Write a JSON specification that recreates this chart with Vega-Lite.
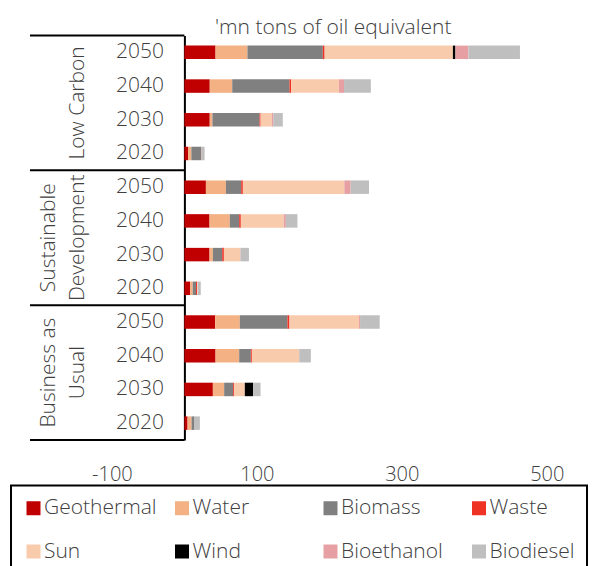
{
  "$schema": "https://vega.github.io/schema/vega-lite/v6.json",
  "autosize": {"type": "none"},
  "padding": {"left": 30, "top": 35.5, "right": 14, "bottom": 126},
  "width": 553,
  "height": 404.5,
  "title": {
    "text": "'mn tons of oil equivalent",
    "frame": "group",
    "anchor": "start",
    "dx": 185,
    "dy": 24,
    "offset": 4,
    "baseline": "alphabetic",
    "fontSize": 21,
    "fontWeight": 300,
    "color": "#404040"
  },
  "datasets": {
    "energy": [
      {"slot": "Low Carbon 2050", "source": "Geothermal", "value": 43},
      {"slot": "Low Carbon 2050", "source": "Water", "value": 44},
      {"slot": "Low Carbon 2050", "source": "Biomass", "value": 104},
      {"slot": "Low Carbon 2050", "source": "Waste", "value": 2.5},
      {"slot": "Low Carbon 2050", "source": "Sun", "value": 177},
      {"slot": "Low Carbon 2050", "source": "Wind", "value": 3.5},
      {"slot": "Low Carbon 2050", "source": "Bioethanol", "value": 18},
      {"slot": "Low Carbon 2050", "source": "Biodiesel", "value": 71},
      {"slot": "Low Carbon 2040", "source": "Geothermal", "value": 35},
      {"slot": "Low Carbon 2040", "source": "Water", "value": 31},
      {"slot": "Low Carbon 2040", "source": "Biomass", "value": 79},
      {"slot": "Low Carbon 2040", "source": "Waste", "value": 2.3},
      {"slot": "Low Carbon 2040", "source": "Sun", "value": 66},
      {"slot": "Low Carbon 2040", "source": "Bioethanol", "value": 7},
      {"slot": "Low Carbon 2040", "source": "Biodiesel", "value": 37},
      {"slot": "Low Carbon 2030", "source": "Geothermal", "value": 35},
      {"slot": "Low Carbon 2030", "source": "Water", "value": 3.7},
      {"slot": "Low Carbon 2030", "source": "Biomass", "value": 65},
      {"slot": "Low Carbon 2030", "source": "Waste", "value": 1.5},
      {"slot": "Low Carbon 2030", "source": "Sun", "value": 15.6},
      {"slot": "Low Carbon 2030", "source": "Bioethanol", "value": 2},
      {"slot": "Low Carbon 2030", "source": "Biodiesel", "value": 13},
      {"slot": "Low Carbon 2020", "source": "Geothermal", "value": 5},
      {"slot": "Low Carbon 2020", "source": "Water", "value": 4.6},
      {"slot": "Low Carbon 2020", "source": "Biomass", "value": 13.4},
      {"slot": "Low Carbon 2020", "source": "Waste", "value": 0.4},
      {"slot": "Low Carbon 2020", "source": "Biodiesel", "value": 4.5},
      {"slot": "Sustainable Development 2050", "source": "Geothermal", "value": 29.7},
      {"slot": "Sustainable Development 2050", "source": "Water", "value": 27.6},
      {"slot": "Sustainable Development 2050", "source": "Biomass", "value": 21.1},
      {"slot": "Sustainable Development 2050", "source": "Waste", "value": 2.3},
      {"slot": "Sustainable Development 2050", "source": "Sun", "value": 140},
      {"slot": "Sustainable Development 2050", "source": "Bioethanol", "value": 8.7},
      {"slot": "Sustainable Development 2050", "source": "Biodiesel", "value": 25.3},
      {"slot": "Sustainable Development 2040", "source": "Geothermal", "value": 34.7},
      {"slot": "Sustainable Development 2040", "source": "Water", "value": 28},
      {"slot": "Sustainable Development 2040", "source": "Biomass", "value": 12.9},
      {"slot": "Sustainable Development 2040", "source": "Waste", "value": 2.3},
      {"slot": "Sustainable Development 2040", "source": "Sun", "value": 59.3},
      {"slot": "Sustainable Development 2040", "source": "Bioethanol", "value": 2.8},
      {"slot": "Sustainable Development 2040", "source": "Biodiesel", "value": 16},
      {"slot": "Sustainable Development 2030", "source": "Geothermal", "value": 34.7},
      {"slot": "Sustainable Development 2030", "source": "Water", "value": 4.6},
      {"slot": "Sustainable Development 2030", "source": "Biomass", "value": 12.9},
      {"slot": "Sustainable Development 2030", "source": "Waste", "value": 2.3},
      {"slot": "Sustainable Development 2030", "source": "Sun", "value": 22.5},
      {"slot": "Sustainable Development 2030", "source": "Bioethanol", "value": 0.5},
      {"slot": "Sustainable Development 2030", "source": "Biodiesel", "value": 11.6},
      {"slot": "Sustainable Development 2020", "source": "Geothermal", "value": 8},
      {"slot": "Sustainable Development 2020", "source": "Water", "value": 3.5},
      {"slot": "Sustainable Development 2020", "source": "Biomass", "value": 4.6},
      {"slot": "Sustainable Development 2020", "source": "Waste", "value": 1.4},
      {"slot": "Sustainable Development 2020", "source": "Sun", "value": 1},
      {"slot": "Sustainable Development 2020", "source": "Biodiesel", "value": 4.1},
      {"slot": "Business as Usual 2050", "source": "Geothermal", "value": 42.5},
      {"slot": "Business as Usual 2050", "source": "Water", "value": 34},
      {"slot": "Business as Usual 2050", "source": "Biomass", "value": 65.7},
      {"slot": "Business as Usual 2050", "source": "Waste", "value": 2.8},
      {"slot": "Business as Usual 2050", "source": "Sun", "value": 96},
      {"slot": "Business as Usual 2050", "source": "Bioethanol", "value": 1.4},
      {"slot": "Business as Usual 2050", "source": "Biodiesel", "value": 27.1},
      {"slot": "Business as Usual 2040", "source": "Geothermal", "value": 43},
      {"slot": "Business as Usual 2040", "source": "Water", "value": 32.6},
      {"slot": "Business as Usual 2040", "source": "Biomass", "value": 16.1},
      {"slot": "Business as Usual 2040", "source": "Waste", "value": 1.4},
      {"slot": "Business as Usual 2040", "source": "Sun", "value": 65.3},
      {"slot": "Business as Usual 2040", "source": "Biodiesel", "value": 16.1},
      {"slot": "Business as Usual 2030", "source": "Geothermal", "value": 39.3},
      {"slot": "Business as Usual 2030", "source": "Water", "value": 15.6},
      {"slot": "Business as Usual 2030", "source": "Biomass", "value": 12.4},
      {"slot": "Business as Usual 2030", "source": "Waste", "value": 1.4},
      {"slot": "Business as Usual 2030", "source": "Sun", "value": 14.7},
      {"slot": "Business as Usual 2030", "source": "Wind", "value": 11.5},
      {"slot": "Business as Usual 2030", "source": "Biodiesel", "value": 10.2},
      {"slot": "Business as Usual 2020", "source": "Geothermal", "value": 4.4},
      {"slot": "Business as Usual 2020", "source": "Water", "value": 5.5},
      {"slot": "Business as Usual 2020", "source": "Biomass", "value": 4.1},
      {"slot": "Business as Usual 2020", "source": "Biodiesel", "value": 7.4}
    ],
    "sources": [
      {"source": "Geothermal", "rank": 1},
      {"source": "Water", "rank": 2},
      {"source": "Biomass", "rank": 3},
      {"source": "Waste", "rank": 4},
      {"source": "Sun", "rank": 5},
      {"source": "Wind", "rank": 6},
      {"source": "Bioethanol", "rank": 7},
      {"source": "Biodiesel", "rank": 8}
    ],
    "groupTops": [
      {"slot": "Low Carbon 2050"},
      {"slot": "Sustainable Development 2050"},
      {"slot": "Business as Usual 2050"}
    ],
    "groupBottom": [
      {"slot": "Business as Usual 2020"}
    ],
    "scenarioOneLine": [
      {"slot": "Low Carbon 2040", "label": "Low Carbon"}
    ],
    "scenarioTwoLines": [
      {"slot": "Sustainable Development 2040", "label": "Sustainable\nDevelopment"},
      {"slot": "Business as Usual 2040", "label": "Business as\nUsual"}
    ]
  },
  "encoding": {
    "y": {
      "field": "slot",
      "type": "nominal",
      "scale": {
        "domain": [
          "Low Carbon 2050", "Low Carbon 2040", "Low Carbon 2030", "Low Carbon 2020",
          "Sustainable Development 2050", "Sustainable Development 2040", "Sustainable Development 2030", "Sustainable Development 2020",
          "Business as Usual 2050", "Business as Usual 2040", "Business as Usual 2030", "Business as Usual 2020"
        ],
        "paddingInner": 0,
        "paddingOuter": 0
      },
      "axis": {
        "orient": "left",
        "offset": -154.4,
        "title": null,
        "ticks": false,
        "tickSize": 0,
        "grid": false,
        "domain": true,
        "domainColor": "#000000",
        "domainWidth": 2,
        "labelExpr": "slice(datum.label, -4)",
        "labelFontSize": 21,
        "labelFontWeight": 300,
        "labelColor": "#404040",
        "labelPadding": 21,
        "labelBaseline": "middle"
      }
    }
  },
  "layer": [
    {
      "data": {"name": "energy"},
      "transform": [
        {"lookup": "source", "from": {"data": {"name": "sources"}, "key": "source", "fields": ["rank"]}}
      ],
      "mark": {"type": "bar", "height": {"band": 0.4}},
      "encoding": {
        "x": {
          "field": "value",
          "type": "quantitative",
          "stack": "zero",
          "scale": {"domain": [-213, 550], "nice": false, "zero": false},
          "axis": {
            "values": [-100, 100, 300, 500],
            "labelExpr": "'' + datum.value",
            "title": null,
            "domain": false,
            "ticks": false,
            "tickSize": 0,
            "grid": false,
            "labelFontSize": 20,
            "labelFontWeight": 300,
            "labelColor": "#404040",
            "labelPadding": 24
          }
        },
        "order": {"field": "rank", "type": "quantitative", "sort": "ascending"},
        "color": {
          "field": "source",
          "type": "nominal",
          "sort": ["Geothermal", "Water", "Biomass", "Waste", "Sun", "Wind", "Bioethanol", "Biodiesel"],
          "scale": {
            "domain": ["Geothermal", "Water", "Biomass", "Waste", "Sun", "Wind", "Bioethanol", "Biodiesel"],
            "range": ["#C00000", "#F4B183", "#808080", "#EE3224", "#F8CBAD", "#000000", "#E6A0A4", "#BFBFBF"]
          },
          "legend": {
            "orient": "none",
            "legendX": -19,
            "legendY": 450,
            "direction": "horizontal",
            "columns": 4,
            "title": null,
            "gridAlign": "all",
            "columnPadding": 14.5,
            "rowPadding": 21.5,
            "padding": 12,
            "strokeColor": "#000000",
            "symbolType": "square",
            "symbolSize": 196,
            "symbolStrokeWidth": 0,
            "labelFontSize": 21,
            "labelFontWeight": 300,
            "labelColor": "#404040",
            "labelOffset": 0,
            "labelLimit": 300,
            "encode": {"legend": {"update": {"strokeWidth": {"value": 2}, "width": {"value": 640}}}}
          }
        }
      }
    },
    {
      "data": {"name": "groupTops"},
      "mark": {"type": "rule", "color": "#000000", "strokeWidth": 2},
      "encoding": {
        "y": {"field": "slot", "type": "nominal", "bandPosition": 0},
        "x": {"datum": -213},
        "x2": {"datum": 0}
      }
    },
    {
      "data": {"name": "groupBottom"},
      "mark": {"type": "rule", "color": "#000000", "strokeWidth": 2},
      "encoding": {
        "y": {"field": "slot", "type": "nominal", "bandPosition": 1},
        "x": {"datum": -213},
        "x2": {"datum": 0}
      }
    },
    {
      "data": {"name": "scenarioOneLine"},
      "mark": {
        "type": "text",
        "angle": 270,
        "align": "center",
        "baseline": "bottom",
        "fontSize": 21,
        "fontWeight": 300,
        "color": "#404040"
      },
      "encoding": {
        "y": {"field": "slot", "type": "nominal", "bandPosition": 1},
        "x": {"datum": -132.5},
        "text": {"field": "label"}
      }
    },
    {
      "data": {"name": "scenarioTwoLines"},
      "mark": {
        "type": "text",
        "angle": 270,
        "align": "center",
        "baseline": "bottom",
        "lineBreak": "\n",
        "lineHeight": 29,
        "fontSize": 21,
        "fontWeight": 300,
        "color": "#404040"
      },
      "encoding": {
        "y": {"field": "slot", "type": "nominal", "bandPosition": 1},
        "x": {"datum": -172.5},
        "text": {"field": "label"}
      }
    }
  ],
  "config": {
    "font": "Open Sans",
    "view": {"stroke": null}
  }
}
